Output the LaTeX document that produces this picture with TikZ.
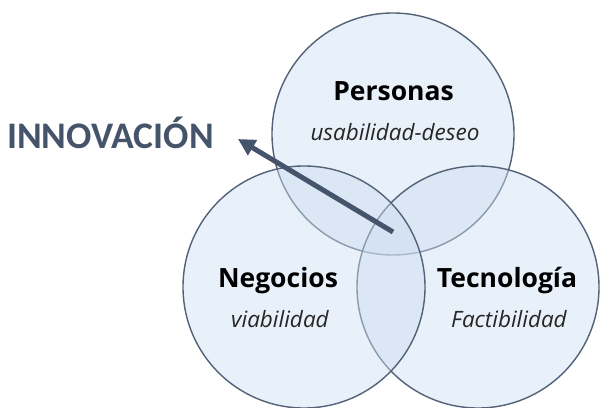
\documentclass[tikz,border=0pt]{standalone}
\usepackage{fontspec}
\setmainfont{Open Sans}
\newfontfamily\calfont{Carlito}
\usetikzlibrary{arrows.meta}
\definecolor{slate}{HTML}{44546A}
\definecolor{vfill}{RGB}{206,222,242}
\begin{document}
\begin{tikzpicture}[x=1pt,y=-1pt,
  venn/.style={circle, draw=slate!92, line width=1.4pt, fill=vfill, fill opacity=0.45,
    minimum size=242pt, inner sep=0pt},
  title/.style={font=\bfseries\fontsize{26.5}{30}\selectfont, text=black, anchor=base, inner sep=0pt},
  sub/.style={font=\itshape\fontsize{22.5}{26}\selectfont, text=black!85, anchor=base, inner sep=0pt},
  big/.style={font=\calfont\bfseries\fontsize{37.5}{42}\selectfont, text=slate, anchor=base west, inner sep=0pt},
  pointer/.style={draw=slate, line width=5pt, -{Triangle[length=17pt,width=17pt]}}]
\useasboundingbox (0,0) rectangle (601,407);
\fill[white] (0,0) rectangle (601,407);
% circles (order: top, right, left)
\node[venn] (personas) at (393,134) {};
\node[venn] (tecno) at (478,287) {};
\node[venn] (negocios) at (304,287) {};
% labels
\node[title] (tP) at (393.5,100) {Personas};
\node[sub] (sP) at (395,140) {usabilidad-deseo};
\node[title] (tN) at (278,287) {Negocios};
\node[sub] (sN) at (280,327) {viabilidad};
\node[title] (tT) at (507,287) {Tecnología};
\node[sub] (sT) at (509,327) {Factibilidad};
\node[big] (innov) at (7,148) {INNOVACIÓN};
% arrow
\coordinate (tail) at (393,232);
\coordinate (tip) at (238,139);
\draw[pointer] (tail) -- (tip);
\end{tikzpicture}
\end{document}
